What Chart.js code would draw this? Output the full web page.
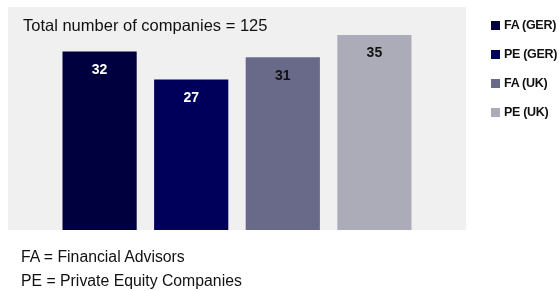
<!DOCTYPE html>
<html>
<head>
<meta charset="utf-8">
<script src="https://cdn.jsdelivr.net/npm/chart.js@4.4.1/dist/chart.umd.min.js"></script>
<style>
body { margin: 0; background: #fff; font-family: "Liberation Sans", Arial, sans-serif; }
#wrap { position: relative; width: 559px; height: 291px; }
#myChart { position: absolute; left: 0; top: 0; }
#title { position: absolute; left: 23px; top: 16px; font-size: 16.5px; color: #111; }
#legend { position: absolute; left: 491px; top: 17px; font-size: 12.5px; font-weight: bold; color: #111; letter-spacing: -0.3px; white-space: nowrap; }
#legend div { display: flex; align-items: center; height: 16px; margin-bottom: 13px; }
#legend span.box { display: inline-block; width: 9px; height: 9px; margin-right: 4px; }
#notes { position: absolute; left: 21px; top: 245px; font-size: 15.8px; line-height: 24px; color: #111; }
</style>
</head>
<body>
<div id="wrap">
	<canvas id="myChart" width="559" height="291"></canvas>
	<div id="title">Total number of companies = 125</div>
	<div id="legend"></div>
	<div id="notes">FA = Financial Advisors<br>PE = Private Equity Companies</div>
</div>
<script>
const categories = ['FA (GER)', 'PE (GER)', 'FA (UK)', 'PE (UK)'];
const counts = [32, 27, 31, 35];
const barColors = ['#00003f', '#00005a', '#69698a', '#acacb8'];
const labelColors = ['#ffffff', '#ffffff', '#111111', '#111111'];
const yMax = 40;

const ctx = document.getElementById('myChart');

// one empty slot on each side so the bars sit where the original has them
var labels = [''].concat(categories, ['']);
var data = [null].concat(counts, [null]);
var colors = ['#fff'].concat(barColors, ['#fff']);

var legendBox = document.getElementById('legend');
categories.forEach((name, i) => {
	var row = document.createElement('div');
	row.innerHTML = '<span class="box" style="background:' + barColors[i] + '"></span>' + name;
	legendBox.appendChild(row);
});

const greyArea = {
	id: 'greyArea',
	beforeDraw(chart) {
		var a = chart.chartArea;
		chart.ctx.save();
		chart.ctx.fillStyle = '#f0f0f0';
		chart.ctx.fillRect(a.left, a.top, a.right - a.left, a.bottom - a.top);
		chart.ctx.restore();
	}
};

const barValues = {
	id: 'barValues',
	afterDatasetsDraw(chart) {
		var c = chart.ctx;
		var meta = chart.getDatasetMeta(0);
		c.save();
		c.font = 'bold 14px "Liberation Sans", Arial, sans-serif';
		c.textAlign = 'center';
		c.textBaseline = 'middle';
		meta.data.forEach((bar, i) => {
			if (data[i] == null) return;
			c.fillStyle = labelColors[i - 1];
			c.fillText(data[i], bar.x, bar.y + 18.5);
		});
		c.restore();
	}
};

var jsChart = new Chart(ctx, {
	type: 'bar',
	data: {
		labels: labels,
		datasets: [{
			label: 'Companies',
			data: data,
			backgroundColor: colors,
			borderWidth: 0,
			categoryPercentage: 0.9,
			barPercentage: 0.9
		}]
	},
	options: {
		responsive: false,
		animation: false,
		layout: { padding: { left: 8, top: 7, right: 93, bottom: 61 } },
		plugins: {
			legend: { display: false },
			tooltip: { enabled: false }
		},
		scales: {
			x: { display: false, offset: false, grid: { display: false } },
			y: { display: false, min: 0, max: yMax }
		}
	},
	plugins: [greyArea, barValues]
});
</script>
</body>
</html>
